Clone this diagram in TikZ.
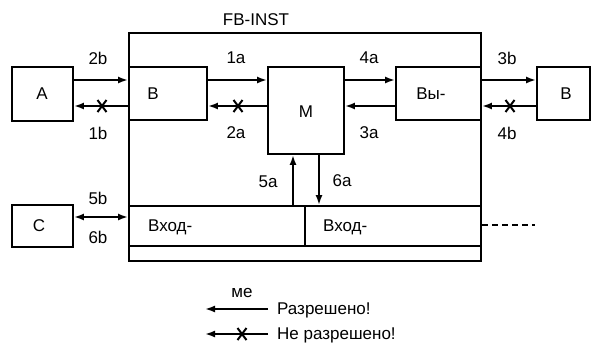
\documentclass[tikz,border=0pt]{standalone}
\usepackage{fontspec}
\setmainfont{Liberation Sans}
\usetikzlibrary{arrows.meta,calc}
\begin{document}
\begin{tikzpicture}[x=1pt,y=-1pt,
 every node/.style={font=\fontsize{17}{20}\selectfont},
 box/.style={draw, line width=1.9pt, inner sep=0pt},
 txt/.style={inner sep=0pt},
 arr/.style={line width=1.9pt, -{Latex[length=10pt,width=7pt]}},
 dbl/.style={line width=1.9pt, {Latex[length=10pt,width=7pt]}-{Latex[length=10pt,width=7pt]}},
 notok/.pic={\draw[line width=2pt] (-4.5,-6)--(4.5,6) (-4.5,6)--(4.5,-6);}
]
\useasboundingbox (0,0) rectangle (592,343);
% frame
\node[box, minimum width=352pt, minimum height=228pt] (fb) at (305,147) {};
\node[txt] (fbl) at (256,20) {FB-INST};
% boxes
\node[box, minimum width=61pt, minimum height=54pt] (A) at (42.5,94) {};
\node[txt] (At) at (42,94) {A};
\node[box, minimum width=78pt, minimum height=53pt] (B) at (168,93.5) {};
\node[txt] (Bt) at (153,93.5) {B};
\node[box, minimum width=76pt, minimum height=87pt] (M) at (306,110.5) {};
\node[txt] (Mt) at (306,112) {M};
\node[box, minimum width=85pt, minimum height=53pt] (V) at (438.5,93.5) {};
\node[txt] (Vt) at (431,93.5) {Вы-};
\node[box, minimum width=53pt, minimum height=53pt] (B2) at (563.5,93.5) {};
\node[txt] (B2t) at (566,93.5) {B};
\node[box, minimum width=61pt, minimum height=42pt] (C) at (42.5,226) {};
\node[txt] (Ct) at (39,226) {C};
\node[box, minimum width=176pt, minimum height=40pt] (in1) at (217,226) {};
\node[txt, anchor=west] (in1t) at (148,227) {Вход-};
\node[box, minimum width=176pt, minimum height=40pt] (in2) at (393,226) {};
\node[txt, anchor=west] (in2t) at (323,227) {Вход-};
% rows
\coordinate (ya) at (0,80);
\coordinate (yb) at (0,106);
\coordinate (yc) at (0,217);
\coordinate (x5) at (293,0);
\coordinate (x6) at (319,0);
% arrows top
\draw[arr] (A.east|-ya) -- (B.west|-ya);
\draw[arr] (B.west|-yb) -- (A.east|-yb);
\pic at (102,106) {notok};
\draw[arr] (B.east|-ya) -- (M.west|-ya);
\draw[arr] (M.west|-yb) -- (B.east|-yb);
\pic at (238,106) {notok};
\draw[arr] (M.east|-ya) -- (V.west|-ya);
\draw[arr] (V.west|-yb) -- (M.east|-yb);
\draw[arr] (fb.east|-ya) -- (B2.west|-ya);
\draw[arr] (B2.west|-yb) -- (fb.east|-yb);
\pic at (510,106) {notok};
% vertical arrows
\draw[arr] (in1.north-|x5) -- (M.south-|x5);
\draw[arr] (M.south-|x6) -- (in2.north-|x6);
% C arrow
\draw[dbl] (C.east|-yc) -- (fb.west|-yc);
% dashed
\coordinate (dend) at (535,225);
\draw[line width=1.3pt, dash pattern=on 6pt off 4pt] (fb.east|-dend) -- (dend);
% labels
\node[txt] (l2b) at (98,58) {2b};
\node[txt] (l1b) at (98,133) {1b};
\node[txt] (l1a) at (236,58) {1a};
\node[txt] (l2a) at (236,133) {2a};
\node[txt] (l4a) at (369,58) {4a};
\node[txt] (l3a) at (369,133) {3a};
\node[txt] (l3b) at (507,58) {3b};
\node[txt] (l4b) at (507,133) {4b};
\node[txt] (l5b) at (98,198) {5b};
\node[txt] (l6b) at (98,237) {6b};
\node[txt] (l5a) at (268,182) {5a};
\node[txt] (l6a) at (342,181) {6a};
% legend
\node[txt] (me) at (242,293) {ме};
\node[txt, anchor=west] (ok) at (277,310) {Разрешено!};
\node[txt, anchor=west] (nok) at (277,335) {Не разрешено!};
\coordinate (o1) at (268,309);
\coordinate (o2) at (205,309);
\coordinate (n1) at (268,334);
\coordinate (n2) at (205,334);
\draw[arr] (o1) -- (o2);
\draw[arr] (n1) -- (n2);
\pic at (242,334) {notok};
\end{tikzpicture}
\end{document}
